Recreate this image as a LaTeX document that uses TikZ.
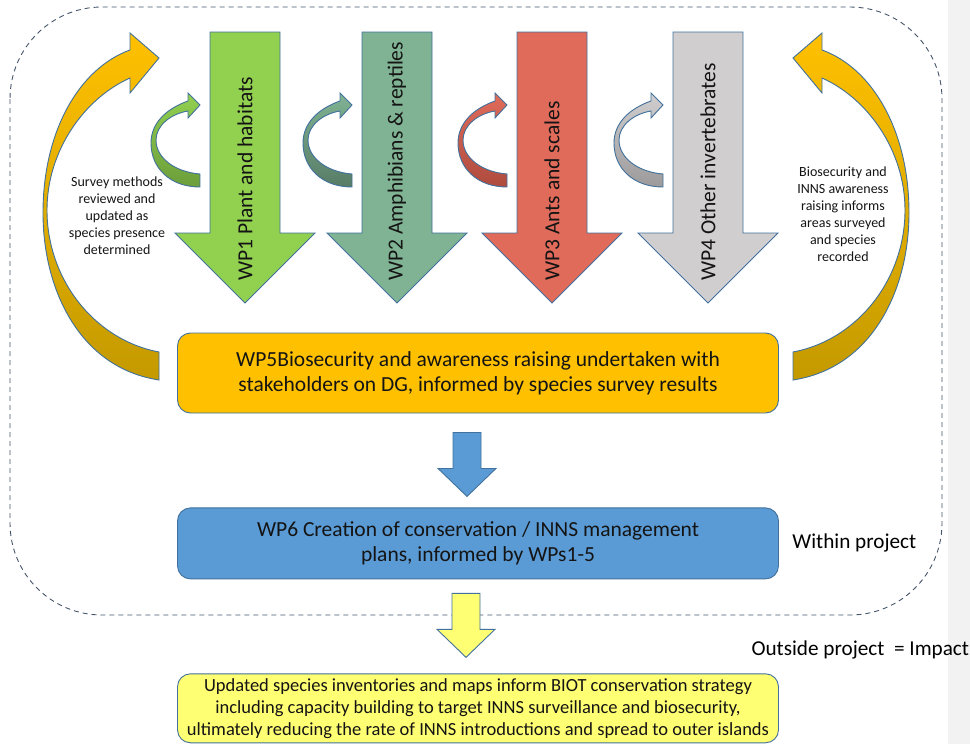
\documentclass[tikz,border=0pt]{standalone}
\usepackage{fontspec}
\setmainfont{Carlito}
\usetikzlibrary{positioning, calc}

\definecolor{edgeblue}{HTML}{41719C}
\definecolor{framegrey}{HTML}{44546A}
\definecolor{stripgrey}{HTML}{F2F2F2}
\definecolor{textdark}{HTML}{141414}
\definecolor{amber}{HTML}{FFC000}
\definecolor{amberdark}{HTML}{C49A00}
\definecolor{wpblue}{HTML}{5B9BD5}
\definecolor{impactyellow}{HTML}{FFFF73}
\definecolor{wpgreen}{HTML}{92D050}
\definecolor{wpgreendark}{HTML}{6C9E3A}
\definecolor{wpsage}{HTML}{80B393}
\definecolor{wpsagedark}{HTML}{587C66}
\definecolor{wpcoral}{HTML}{E06B5A}
\definecolor{wpcoraldark}{HTML}{AE4B3E}
\definecolor{wpgrey}{HTML}{D0CECE}
\definecolor{wpgreydark}{HTML}{9C9A9A}

\tikzset{
  outline/.style={draw=edgeblue, line width=0.9pt, line join=miter},
  wpbox/.style={outline, rounded corners=13pt, minimum width=601pt, align=center,
    text=textdark, font=\fontsize{21.5}{25}\selectfont},
  wplabel/.style={rotate=90, anchor=west, inner sep=0pt, text=textdark,
    font=\fontsize{21.5}{24}\selectfont},
  note/.style={align=center, text=textdark, font=\fontsize{14}{17}\selectfont},
  sidetext/.style={text=black, font=\fontsize{21.2}{24}\selectfont},
}

% block arrow pointing down, from top point #1 to tip #2
\newcommand{\blockdown}[3]{%
  \draw[outline, fill=#3] let \p1=(#1), \p2=(#2) in
    (\x1-14pt,\y1) -- (\x1+14pt,\y1) -- (\x1+14pt,\y2+28pt) -- (\x1+29pt,\y2+28pt)
    -- (\x1,\y2) -- (\x1-29pt,\y2+28pt) -- (\x1-14pt,\y2+28pt) -- cycle;}

\begin{document}
\begin{tikzpicture}[x=1pt, y=-1pt]

  \useasboundingbox (0,0) rectangle (970,744);
  \fill[stripgrey] (948,0) rectangle (970,744);

  % Project frame
  \draw[framegrey, line width=0.9pt, dash pattern=on 5pt off 4pt, rounded corners=92pt]
    (10,7) rectangle (942,615);

  % Survey work packages
  \foreach \cx/\fillc/\darkc/\name/\lab in {
      245/wpgreen/wpgreendark/wp1/WP1 Plant and habitats,
      397/wpsage/wpsagedark/wp2/WP2 Amphibians \& reptiles,
      552/wpcoral/wpcoraldark/wp3/WP3 Ants and scales,
      708/wpgrey/wpgreydark/wp4/WP4 Other invertebrates}
  {
    \draw[outline, fill=\fillc] (\cx-35,32) -- (\cx+35,32) -- (\cx+35,233) -- (\cx+70,233)
      -- (\cx,303) -- (\cx-70,233) -- (\cx-35,233) -- cycle;
    \node[wplabel] (\name) at (\cx,281) {\lab};
    % loop arrow
    \draw[outline, top color=\fillc, bottom color=\darkc]
      (\cx-45,187) .. controls (\cx-75,187) and (\cx-94,168) .. (\cx-94,143)
      .. controls (\cx-94,122) and (\cx-77,108) .. (\cx-57,101) -- (\cx-57,93)
      -- (\cx-45,105) -- (\cx-57,118) -- (\cx-57,111)
      .. controls (\cx-75,114) and (\cx-89,126) .. (\cx-89,140)
      .. controls (\cx-89,158) and (\cx-70,172) .. (\cx-45,174) -- cycle;
  }

  % Feedback arrows
  \foreach \mirror in {1,-1}{
    \begin{scope}[xshift={(1-\mirror)*476pt}, xscale=\mirror]
      \draw[outline, top color=amber, middle color=amber, bottom color=amberdark]
        (130,33) -- (159,58) -- (130,93) -- (130,78)
        .. controls (85,98) and (47,150) .. (47,210)
        .. controls (47,280) and (95,340) .. (159,352) -- (159,380)
        .. controls (80,368) and (43,290) .. (43,213)
        .. controls (43,130) and (80,68) .. (130,50) -- cycle;
    \end{scope}
  }
  \node[note] (survey) at (117,216) {Survey methods\\reviewed and\\updated as\\species presence\\determined};
  \node[note] (informs) at (843,214) {Biosecurity and\\INNS awareness\\raising informs\\areas surveyed\\and species\\recorded};

  % Nodes
  \node[wpbox, fill=amber, minimum height=80pt] (wp5) at (478,373)
    {WP5Biosecurity and awareness raising undertaken with\\stakeholders on DG, informed by species survey results};
  \node[wpbox, fill=wpblue, minimum height=71pt, below=94pt of wp5] (wp6)
    {WP6 Creation of conservation / INNS management\\plans, informed by WPs1-5};
  \node[wpbox, fill=impactyellow, minimum height=69pt, below=94pt of wp6,
    font=\fontsize{18.5}{22}\selectfont] (impact)
    {Updated species inventories and maps inform BIOT conservation strategy\\
     including capacity building to target INNS surveillance and biosecurity,\\
     ultimately reducing the rate of INNS introductions and spread to outer islands};
  \node[sidetext, right=10pt of wp6] (within) {Within project};
  \node[sidetext, anchor=west] (outside) at (748,650) {Outside project\ \ = Impact};

  % Arrows
  \coordinate (b5) at ([xshift=-11pt, yshift=-19pt]wp5.south);
  \coordinate (b6) at ([xshift=-11pt, yshift=11pt]wp6.north);
  \coordinate (y6) at ([xshift=-12pt, yshift=-14pt]wp6.south);
  \coordinate (yi) at ([xshift=-12pt, yshift=16pt]impact.north);
  \blockdown{b5}{b6}{wpblue}
  \blockdown{y6}{yi}{impactyellow}

\end{tikzpicture}
\end{document}
